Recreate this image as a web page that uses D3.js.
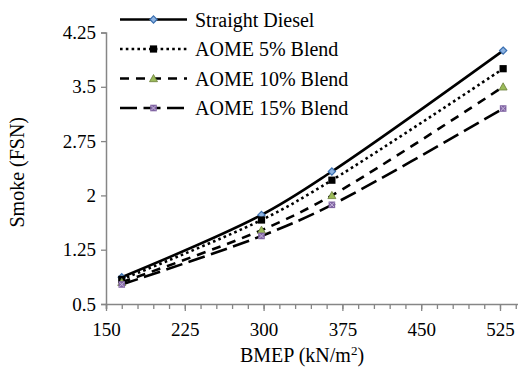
<!DOCTYPE html>
<html>
<head>
<meta charset="utf-8">
<script src="https://cdn.jsdelivr.net/npm/d3@7"></script>
<style>
  svg text, svg tspan { font-family: "Liberation Serif", "Times New Roman", serif !important; }
</style>
</head>
<body style="margin:0">
<svg id="chart" width="518" height="374" font-family="Liberation Serif"></svg>
<script>
// BMEP load points (kN/m2)
const bmep = [165, 298, 365, 528];

// Smoke opacity (FSN) for each fuel
const straightDiesel = [0.87, 1.73, 2.33, 4.0];
const aome5 = [0.84, 1.66, 2.21, 3.75];
const aome10 = [0.80, 1.52, 2.00, 3.50];
const aome15 = [0.77, 1.44, 1.87, 3.20];

const seriesNames = ["Straight Diesel", "AOME 5% Blend", "AOME 10% Blend", "AOME 15% Blend"];
const seriesValues = [straightDiesel, aome5, aome10, aome15];

const xTickValues = [150, 225, 300, 375, 450, 525];
const yTickValues = [0.5, 1.25, 2, 2.75, 3.5, 4.25];

const serif = "'Liberation Serif', 'Times New Roman', serif";
const svg = d3.select("#chart");

const x = d3.scaleLinear().domain([150, 545]).range([106, 521]);
const y = d3.scaleLinear().domain([0.5, 4.25]).range([304, 32.5]);

const axisColor = "#868686";

// Line style and marker per series
const styles = [
  { dash: null, marker: "diamond" },
  { dash: "2.6,3.2", marker: "square" },
  { dash: "9,7", marker: "triangle" },
  { dash: "17,6.5", marker: "xsquare" }
];

function drawMarker(g, kind, cx, cy) {
  if (kind === "diamond") {
    g.append("path")
      .attr("d", `M${cx},${cy - 3.6}L${cx + 3.6},${cy}L${cx},${cy + 3.6}L${cx - 3.6},${cy}Z`)
      .attr("fill", "#8db3e2").attr("stroke", "#3a6fb0").attr("stroke-width", 1.2);
  } else if (kind === "square") {
    g.append("rect")
      .attr("x", cx - 3.6).attr("y", cy - 3.6).attr("width", 7.2).attr("height", 7.2)
      .attr("fill", "#000");
  } else if (kind === "triangle") {
    g.append("path")
      .attr("d", `M${cx},${cy - 4}L${cx + 4},${cy + 3.2}L${cx - 4},${cy + 3.2}Z`)
      .attr("fill", "#9bbb59").attr("stroke", "#6b7d3a").attr("stroke-width", 0.8);
  } else {
    g.append("rect")
      .attr("x", cx - 3.3).attr("y", cy - 3.3).attr("width", 6.6).attr("height", 6.6)
      .attr("fill", "#8064a2");
    g.append("path")
      .attr("d", `M${cx - 2.3},${cy - 2.3}L${cx + 2.3},${cy + 2.3}M${cx + 2.3},${cy - 2.3}L${cx - 2.3},${cy + 2.3}`)
      .attr("stroke", "#c9b8df").attr("stroke-width", 1);
  }
}

function styleText(sel, size) {
  sel.attr("fill", "#000")
    .attr("font-family", serif).attr("font-size", size)
    .style("font-family", serif).style("font-size", size + "px");
}

// Axes
const xAxisMinor = d3.axisBottom(x)
  .tickValues(d3.range(150, 541, 15))
  .tickSize(5).tickFormat("");
svg.append("g").attr("transform", `translate(0,${y(0.5)})`).call(xAxisMinor)
  .call(g => g.selectAll("line").attr("stroke", axisColor).attr("stroke-width", 1.3))
  .call(g => g.select(".domain").attr("stroke", axisColor).attr("stroke-width", 1.5));

const xAxis = d3.axisBottom(x)
  .tickValues(xTickValues).tickSize(7).tickPadding(12)
  .tickFormat(d3.format("d"));
svg.append("g").attr("transform", `translate(0,${y(0.5)})`).call(xAxis)
  .attr("font-family", serif)
  .call(g => g.select(".domain").remove())
  .call(g => g.selectAll("line").attr("stroke", axisColor).attr("stroke-width", 1.3))
  .call(g => styleText(g.selectAll("text"), 19));

const yAxis = d3.axisLeft(y)
  .tickValues(yTickValues).tickSize(5).tickPadding(5)
  .tickFormat(d => String(+d.toFixed(2)));
svg.append("g").attr("transform", `translate(${x(150)},0)`).call(yAxis)
  .attr("font-family", serif)
  .call(g => g.select(".domain").attr("stroke", axisColor).attr("stroke-width", 1.5))
  .call(g => g.selectAll("line").attr("stroke", axisColor).attr("stroke-width", 1.3))
  .call(g => styleText(g.selectAll("text"), 19));

// Axis titles
svg.append("text")
  .attr("transform", `translate(24,${(y(0.5) + y(4.25)) / 2 + 4}) rotate(-90)`)
  .attr("text-anchor", "middle")
  .call(s => styleText(s, 20))
  .text("Smoke (FSN)");

const xt = svg.append("text")
  .attr("x", 302).attr("y", 362)
  .attr("text-anchor", "middle")
  .call(s => styleText(s, 20));
xt.append("tspan").text("BMEP (kN/m");
xt.append("tspan").attr("font-size", 13).style("font-size", "13px").attr("dy", -7).text("2");
xt.append("tspan").attr("dy", 7).text(")");

// Smoothed series lines
const line = d3.line()
  .x(d => x(d[0])).y(d => y(d[1]))
  .curve(d3.curveCatmullRom.alpha(0.5));

seriesValues.forEach((vals, i) => {
  const pts = bmep.map((b, j) => [b, vals[j]]);
  svg.append("path")
    .datum(pts)
    .attr("d", line)
    .attr("fill", "none")
    .attr("stroke", "#000")
    .attr("stroke-width", 2.6)
    .attr("stroke-dasharray", styles[i].dash);
});

seriesValues.forEach((vals, i) => {
  const g = svg.append("g");
  bmep.forEach((b, j) => drawMarker(g, styles[i].marker, x(b), y(vals[j])));
});

// Legend
const legendY = [19.5, 49, 78.5, 108];
seriesNames.forEach((name, i) => {
  const g = svg.append("g");
  const ly = legendY[i];
  g.append("line")
    .attr("x1", 120).attr("x2", 187).attr("y1", ly).attr("y2", ly)
    .attr("stroke", "#000").attr("stroke-width", 2.6)
    .attr("stroke-dasharray", styles[i].dash);
  drawMarker(g, styles[i].marker, 153.5, ly);
  g.append("text")
    .attr("x", 195).attr("y", ly + 7)
    .call(s => styleText(s, 20))
    .text(name);
});
</script>
</body>
</html>
